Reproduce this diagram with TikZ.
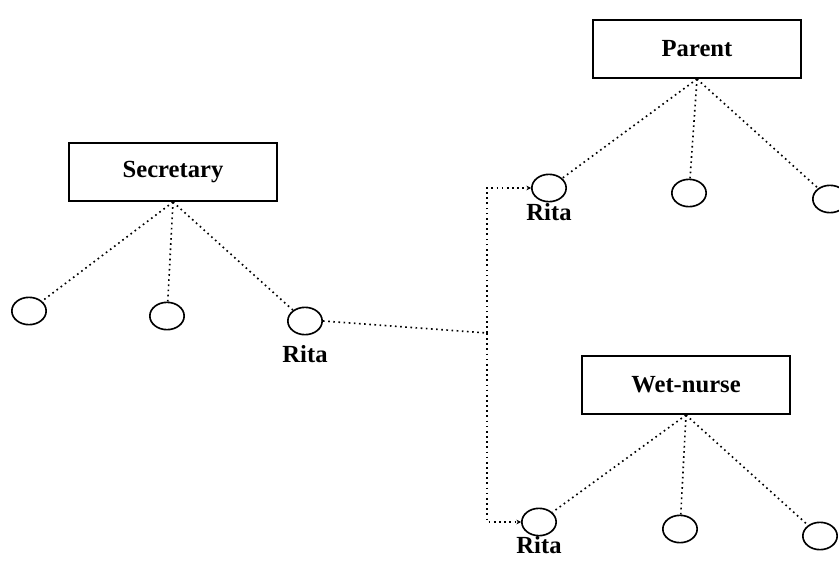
\documentclass[tikz,border=0pt]{standalone}
\usepackage{fontspec}
\setmainfont{Liberation Serif}
\usetikzlibrary{shapes.geometric,arrows.meta}
\tikzset{
  role/.style={draw, line width=1.5pt, minimum width=6.25cm, minimum height=1.75cm,
    font=\fontsize{21}{25}\selectfont\bfseries},
  slot/.style={draw, ellipse, line width=1.4pt, minimum width=1.03cm,
    minimum height=0.82cm, inner sep=0pt},
  ritatext/.style={font=\fontsize{21}{25}\selectfont\bfseries, inner sep=1pt},
  link/.style={line width=1.4pt, dash pattern=on 1.4pt off 3pt},
  hook/.style={-{Stealth[length=4pt,width=4pt]}}
}
\begin{document}
\begin{tikzpicture}[x=0.03cm, y=-0.03cm]
    \useasboundingbox (0,0) rectangle (839,562);

    \node [role] (sec) at (173,172) {Secretary};
    \node [role] (par) at (697,49) {Parent};
    \node [role] (wet) at (686,385) {Wet-nurse};

    \node [slot] (s1) at (29,311) {};
    \node [slot] (s2) at (167,316) {};
    \node [slot, label={[ritatext, label distance=7pt]below:Rita}] (s3) at (305,321) {};

    \node [slot, label={[ritatext]below:Rita}] (p1) at (549,188) {};
    \node [slot] (p2) at (689,193) {};
    \node [slot] (p3) at (830,199) {};

    \node [slot, label={[ritatext, label distance=-1pt]below:Rita}] (w1) at (539,522) {};
    \node [slot] (w2) at (680,529) {};
    \node [slot] (w3) at (820,536) {};

    \foreach \c in {s1,s2,s3} \draw [link] (sec.south) -- (\c);
    \foreach \c in {p1,p2,p3} \draw [link] (par.south) -- (\c);
    \foreach \c in {w1,w2,w3} \draw [link] (wet.south) -- (\c);

    \coordinate (fork) at (487,333);
    \draw [link] (s3.east) -- (fork);
    \draw [link, hook] (fork) |- (p1);
    \draw [link, hook] (fork) |- (w1);
\end{tikzpicture}
\end{document}
